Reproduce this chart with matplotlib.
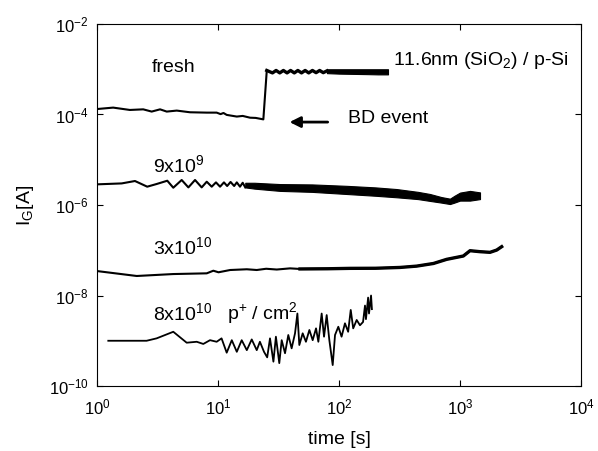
import matplotlib
matplotlib.use("Agg")
import matplotlib.pyplot as plt
from matplotlib.ticker import NullLocator

plt.rcParams['font.family'] = ['Liberation Sans', 'DejaVu Sans']
plt.rcParams['mathtext.fontset'] = 'custom'
plt.rcParams['mathtext.rm'] = 'Liberation Sans'
plt.rcParams['mathtext.it'] = 'Liberation Sans:italic'
plt.rcParams['mathtext.default'] = 'regular'

# fresh sample: before BD up to the jump
fresh_t = [1.0, 1.36, 1.87, 2.41, 2.83, 3.32, 3.77, 4.56, 5.87, 8.07, 9.75, 10.5, 11.1, 11.8,
           14.3, 16.0, 18.4, 20.5, 23.7, 25.3]
fresh_i = [1.32e-4, 1.42e-4, 1.26e-4, 1.30e-4, 1.16e-4, 1.30e-4, 1.16e-4, 1.22e-4, 1.12e-4, 1.10e-4,
           1.10e-4, 1.02e-4, 1.08e-4, 0.98e-4, 0.90e-4, 0.93e-4, 0.85e-4, 0.84e-4, 0.78e-4, 9.4e-4]
# fresh sample after BD: scalloped part
scallop_t = [25.3, 28.2, 30.2, 32.4, 34.7, 37.2, 39.8, 42.7, 45.7, 49.0, 52.5, 56.2, 60.3, 64.6,
             69.2, 74.1, 79.4]
scallop_i = [9.4e-4, 8.3e-4, 9.4e-4, 8.3e-4, 9.4e-4, 8.3e-4, 9.4e-4, 8.3e-4, 9.4e-4, 8.3e-4,
             9.4e-4, 8.3e-4, 9.4e-4, 8.4e-4, 9.4e-4, 8.4e-4, 9.2e-4]
# fresh sample after BD: dense noise band (upper / lower envelope)
fresh_band_t = [79.4, 100, 130, 170, 210, 254]
fresh_band_hi = [1.0e-3, 1.0e-3, 1.0e-3, 1.0e-3, 1.0e-3, 1.0e-3]
fresh_band_lo = [8.2e-4, 8.0e-4, 7.9e-4, 7.8e-4, 7.7e-4, 7.7e-4]

# 9x10^9 p+/cm2
n9_t = [1.0, 1.6, 2.06, 2.6, 3.11, 3.81, 4.27, 5.01, 5.69, 6.46, 7.33, 8.07, 8.87, 9.62,
        10.4, 11.2, 11.9, 12.7, 13.6, 14.3, 15.2, 16.0, 16.8]
n9_i = [2.86e-6, 3.0e-6, 3.39e-6, 2.54e-6, 2.91e-6, 3.44e-6, 2.41e-6, 3.57e-6, 2.45e-6, 3.57e-6,
        2.45e-6, 3.27e-6, 2.54e-6, 3.16e-6, 2.54e-6, 3.16e-6, 2.63e-6, 3.23e-6, 2.63e-6, 3.16e-6,
        2.54e-6, 3.1e-6, 2.45e-6]
n9_band_t = [16.8, 20, 32.5, 60, 116, 200, 300, 450, 565, 700, 826, 900, 1000, 1210, 1463]
n9_band_hi = [3.1e-6, 3.1e-6, 2.9e-6, 2.85e-6, 2.65e-6, 2.45e-6, 2.25e-6, 1.95e-6, 1.75e-6,
              1.5e-6, 1.38e-6, 1.6e-6, 1.88e-6, 2.05e-6, 1.9e-6]
n9_band_lo = [2.45e-6, 2.3e-6, 2.05e-6, 1.95e-6, 1.75e-6, 1.6e-6, 1.48e-6, 1.35e-6, 1.23e-6,
              1.13e-6, 1.05e-6, 1.13e-6, 1.25e-6, 1.25e-6, 1.35e-6]

# 3x10^10 p+/cm2
n3_t = [1.0, 2.13, 4.27, 8.07, 9.15, 10.1, 12.6, 17.3, 20.9, 25.0, 30.6, 39.4, 47.6, 80, 123, 200,
        319, 438, 603, 776, 1065, 1210, 1463, 1770, 2010, 2210]
n3_i = [3.47e-8, 2.7e-8, 2.98e-8, 3.09e-8, 3.53e-8, 3.26e-8, 3.66e-8, 3.8e-8, 3.66e-8, 3.9e-8,
        3.75e-8, 3.98e-8, 3.86e-8, 3.9e-8, 3.98e-8, 4.0e-8, 4.17e-8, 4.46e-8, 5.1e-8, 6.3e-8,
        7.46e-8, 9.77e-8, 9.3e-8, 9.0e-8, 1.01e-7, 1.2e-7]

# 8x10^10 p+/cm2
n8_t = [1.24, 2.57, 3.11, 4.27, 5.51, 6.67, 7.56, 8.59, 9.75, 10.7, 11.8, 13.0, 14.3, 15.7, 17.3,
        19.0, 20.9, 22.2, 24.0, 25.5, 26.9, 28.7, 30.1, 32.1, 33.6, 35.8, 38.1, 40.6, 43.3, 45.3,
        47.0, 50.1, 53.3, 56.9, 60.6, 64.6, 67.5, 71.9, 75.2, 79.1, 83.2, 88.7, 92.7, 98.7, 105,
        112, 119, 125, 131, 140, 149, 158, 164, 167, 174, 177, 184, 187]
n8_i = [1.0e-9, 1.0e-9, 1.13e-9, 1.58e-9, 9.06e-10, 9.5e-10, 8.5e-10, 1.03e-9, 9.5e-10, 1.13e-9,
        5.45e-10, 1.03e-9, 5.7e-10, 1.03e-9, 6.2e-10, 1.07e-9, 6.2e-10, 9.5e-10, 5.7e-10, 4.3e-10,
        1.13e-9, 3.45e-10, 1.23e-9, 3.2e-10, 1.03e-9, 5.3e-10, 1.34e-9, 6.8e-10, 1.46e-9, 4.0e-9,
        8.05e-10, 1.46e-9, 9.5e-10, 1.73e-9, 1.03e-9, 1.88e-9, 9.5e-10, 4.0e-9, 1.23e-9, 3.7e-9,
        1.03e-9, 2.9e-10, 1.34e-9, 2.04e-9, 1.23e-9, 2.43e-9, 1.58e-9, 4.8e-9, 1.88e-9, 2.88e-9,
        2.2e-9, 2.6e-9, 6.0e-9, 3.0e-9, 9.0e-9, 4.0e-9, 1.0e-8, 5.0e-9]

fig = plt.figure(figsize=(5.98, 4.51), dpi=100)
ax = fig.add_axes([0.1622, 0.1441, 0.8094, 0.8027])

ax.plot(fresh_t, fresh_i, color='k', lw=1.5)
ax.plot(scallop_t, scallop_i, color='k', lw=2.4)
ax.fill_between(fresh_band_t, fresh_band_lo, fresh_band_hi, color='k', lw=0.8)
ax.plot(n9_t, n9_i, color='k', lw=1.5)
ax.fill_between(n9_band_t, n9_band_lo, n9_band_hi, color='k', lw=0.8)
ax.plot(n3_t, n3_i, color='k', lw=1.5)
ax.plot(n3_t[12:], n3_i[12:], color='k', lw=2.4)
ax.plot(n8_t, n8_i, color='k', lw=1.3)

ax.set_xscale('log')
ax.set_yscale('log')
ax.set_xlim(1, 1e4)
ax.set_ylim(1e-10, 1e-2)
ax.set_xticks([1, 10, 100, 1000, 10000])
ax.set_yticks([1e-10, 1e-8, 1e-6, 1e-4, 1e-2])
ax.xaxis.set_minor_locator(NullLocator())
ax.yaxis.set_minor_locator(NullLocator())
ax.tick_params(direction='in', length=4, width=0.8, top=True, right=True, labelsize=12)
ax.tick_params(axis='x', pad=8)
ax.tick_params(axis='y', pad=6)
for s in ax.spines.values():
    s.set_linewidth(0.8)

ax.set_xlabel('time [s]', fontsize=14, labelpad=10)
ax.set_ylabel('I$_{G}$[A]', fontsize=14, labelpad=9)

ax.text(2.85, 1.12e-3, 'fresh', fontsize=14, va='center')
ax.text(279, 1.6e-3, '11.6nm (SiO$_2$) / p-Si', fontsize=14, va='center')
ax.text(119, 8.3e-5, 'BD event', fontsize=14, va='center')
ax.annotate('', xy=(37, 6.8e-5), xytext=(85, 6.8e-5),
            arrowprops=dict(arrowstyle='-|>', color='k', lw=2, mutation_scale=16))
ax.text(2.89, 7.66e-6, '9x10$^{9}$', fontsize=14, va='center')
ax.text(2.89, 1.2e-7, '3x10$^{10}$', fontsize=14, va='center')
ax.text(2.89, 4.0e-9, '8x10$^{10}$', fontsize=14, va='center')
ax.text(11.8, 4.0e-9, 'p$^{+}$ / cm$^{2}$', fontsize=14, va='center')

fig.savefig('out.png', dpi=100)
